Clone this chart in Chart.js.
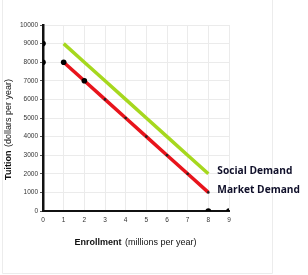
<!DOCTYPE html>
<html><head><meta charset="utf-8">
<script src="https://cdn.jsdelivr.net/npm/chart.js@4"></script>
<style>html,body{margin:0;padding:0;background:#fff;}#wrap{width:308px;height:275px;position:relative;}</style>
</head><body><div id="wrap"><canvas id="c" width="308" height="275"></canvas></div>
<script>
const enrollment = [1,2,3,4,5,6,7,8];
const marketDemand = [8000,7000,6000,5000,4000,3000,2000,1000];
const socialDemand = [9000,8000,7000,6000,5000,4000,3000,2000];
const markedX = [0,0,1,2,8,9];
const markedY = [9000,8000,8000,7000,0,0];
const xTicks = [0,1,2,3,4,5,6,7,8,9];
const yTicks = [0,1000,2000,3000,4000,5000,6000,7000,8000,9000,10000];
const seriesLabels = ['Social Demand','Market Demand'];
const xTitle = ['Enrollment',' (millions per year)'];
const yTitle = ['Tuition',' (dollars per year)'];

const toPts = (xs, ys) => xs.map((x,i)=>({x, y: ys[i]}));

const extras = {
  id:'extras',
  beforeDraw(chart){
    const c = chart.ctx;
    c.save();
    c.fillStyle='#fff'; c.fillRect(0,0,308,275);
    c.strokeStyle='#ececec'; c.lineWidth=1;
    c.beginPath(); c.moveTo(2.5,0); c.lineTo(2.5,273.5); c.lineTo(272.5,273.5); c.lineTo(272.5,0); c.stroke();
    c.restore();
  },
  afterDatasetsDraw(chart){
    const c = chart.ctx, xs = chart.scales.x, ys = chart.scales.y;
    c.save();
    c.fillStyle='#10102a';
    c.font='bold 10.2px "Open Sans"';
    c.textBaseline='middle'; c.textAlign='left';
    const n = enrollment.length-1;
    c.fillText(seriesLabels[0], xs.getPixelForValue(enrollment[n])+9, ys.getPixelForValue(socialDemand[n])-3);
    c.fillText(seriesLabels[1], xs.getPixelForValue(enrollment[n])+9, ys.getPixelForValue(marketDemand[n])-2);
    c.fillStyle='#111';
    c.font='bold 9px "Liberation Sans"';
    const w1 = c.measureText(xTitle[0]).width;
    c.font='9px "Liberation Sans"';
    const w2 = c.measureText(xTitle[1]).width;
    let sx = 135 - (w1+w2)/2;
    c.font='bold 9px "Liberation Sans"'; c.fillText(xTitle[0], sx, 243);
    c.font='9px "Liberation Sans"'; c.fillText(xTitle[1], sx+w1+1, 243);
    c.translate(9,130); c.rotate(-Math.PI/2);
    c.font='bold 9px "Liberation Sans"';
    const v1 = c.measureText(yTitle[0]).width;
    c.font='9px "Liberation Sans"';
    const v2 = c.measureText(yTitle[1]).width;
    sx = -(v1+v2)/2;
    c.font='bold 9px "Liberation Sans"'; c.fillText(yTitle[0], sx, 0);
    c.font='9px "Liberation Sans"'; c.fillText(yTitle[1], sx+v1+1, 0);
    c.restore();
  }
};

new Chart(document.getElementById('c'), {
  type:'scatter',
  data:{datasets:[
    {data:toPts(enrollment, socialDemand), showLine:true, borderColor:'#a6d81e', borderWidth:3.5, pointRadius:0, order:3},
    {data:toPts(enrollment, marketDemand), showLine:true, borderColor:'#e8141c', borderWidth:3.5, pointRadius:1.3, pointBackgroundColor:'#222', pointBorderWidth:0, order:2},
    {data:toPts(markedX, markedY), showLine:false, pointRadius:2.8, pointBackgroundColor:'#000', pointBorderWidth:0, order:1}
  ]},
  options:{
    responsive:false, animation:false, devicePixelRatio:1,
    layout:{autoPadding:false, padding:{left:0, top:25, right:79, bottom:52}},
    plugins:{legend:{display:false}, tooltip:{enabled:false}},
    scales:{
      x:{type:'linear', min:0, max:9,
        afterBuildTicks(s){ s.ticks = xTicks.map(v=>({value:v})); },
        afterFit(s){ s.height = 12; },
        grid:{color:'#ebebeb', lineWidth:1, drawTicks:false},
        border:{color:'#111', width:2},
        ticks:{font:{size:6.5, family:'Liberation Sans'}, color:'#333', padding:5, maxRotation:0}
      },
      y:{type:'linear', min:0, max:10000,
        afterBuildTicks(s){ s.ticks = yTicks.map(v=>({value:v})); },
        afterFit(s){ s.width = 43; },
        grid:{color:'#ebebeb', lineWidth:1, tickLength:3, tickColor:'#555'},
        border:{color:'#111', width:2.5},
        ticks:{font:{size:6.5, family:'Liberation Sans'}, color:'#333', padding:2, callback:v=>String(v)}
      }
    }
  },
  plugins:[extras]
});
</script></body></html>
